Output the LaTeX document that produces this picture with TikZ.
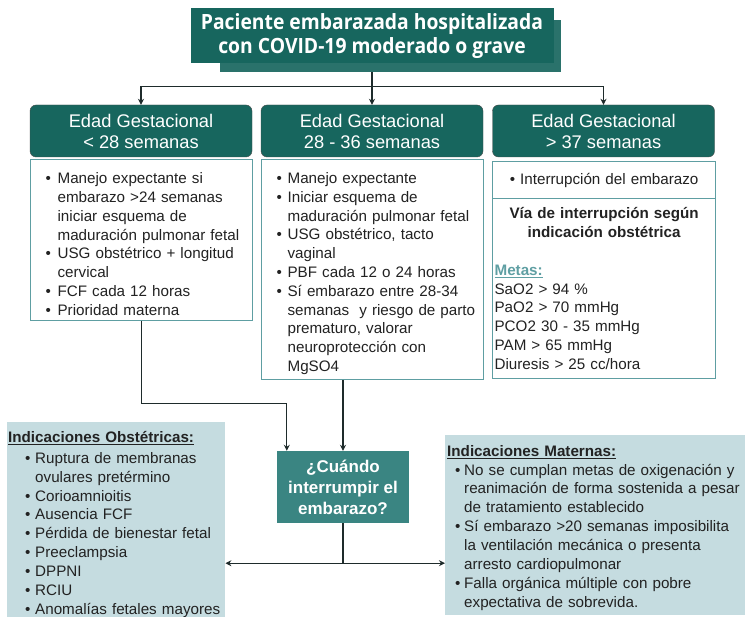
\documentclass[tikz,border=0pt]{standalone}
\usepackage{fontspec}
\setmainfont{Liberation Sans}
\newfontfamily\titlefont[FakeStretch=0.92]{Open Sans}
\usepackage{tikz}
\usetikzlibrary{positioning,arrows.meta,calc,backgrounds}
\definecolor{tealdark}{HTML}{17665E}
\definecolor{tealshade}{HTML}{2A726B}
\definecolor{tealmid}{HTML}{3A8582}
\definecolor{tealline}{HTML}{5E9EA2}
\definecolor{paleblue}{HTML}{C5DCE0}
\definecolor{inkgray}{HTML}{222222}
\definecolor{linkcol}{HTML}{1E2B2B}
\definecolor{metascol}{HTML}{5F9FA3}
\setlength{\parindent}{0pt}
\newlength\bulpos
\newlength\txtpos
\newcommand{\itm}{\par\leftskip=\txtpos\leavevmode\llap{\makebox[\dimexpr\txtpos-\bulpos\relax][l]{\textbullet}}}

\tikzset{
  titlebox/.style={fill=tealdark, text=white, font=\titlefont\bfseries\fontsize{21}{24}\selectfont,
    align=center, minimum width=363pt, minimum height=55pt, inner sep=0pt},
  agebox/.style={fill=tealdark, draw=black!70, rounded corners=6pt, text=white,
    font=\fontsize{18.3}{21}\selectfont, align=center, minimum width=222pt, minimum height=52pt, inner sep=0pt},
  listbox/.style={draw=tealline, line width=1.2pt, fill=white, text=inkgray, anchor=north west,
    font=\fontsize{15.2}{18.8}\selectfont, align=left, inner xsep=2pt, inner ysep=0pt},
  askbox/.style={fill=tealmid, text=white, font=\bfseries\fontsize{17}{21}\selectfont,
    align=center, minimum width=132pt, minimum height=72pt, inner sep=0pt},
  notebox/.style={fill=paleblue, text=inkgray, anchor=north west,
    font=\fontsize{15.2}{18.9}\selectfont, align=left, inner xsep=1pt, inner ysep=5pt},
  itemgap/.code 2 args={\setlength\bulpos{#1}\setlength\txtpos{#2}},
  link/.style={draw=linkcol, line width=1.3pt},
  arr/.style={link, -{Stealth[length=6pt,width=6pt]}},
}

\begin{document}
\begin{tikzpicture}[x=1pt,y=-1pt]
  \useasboundingbox (0,0) rectangle (745,617);

  % top box
  \node[titlebox] (title) at (372,36) {Paciente embarazada hospitalizada\\con COVID-19 moderado o grave};
  \begin{scope}[on background layer]
    \fill[white] (0,0) rectangle (745,617);
    \fill[tealshade] ($(title.south west)+(30,8)$) rectangle ($(title.north east)+(7,12)$);
  \end{scope}

  % gestational age headers
  \node[agebox] (age1) at (141,131) {Edad Gestacional\\< 28 semanas};
  \node[agebox] (age2) at (372,131) {Edad Gestacional\\28 - 36 semanas};
  \node[agebox] (age3) at (603.5,131) {Edad Gestacional\\> 37 semanas};

  % management lists
  \node[listbox, itemgap={13pt}{25pt}, text width=218pt, minimum height=161pt] (b1) at (30,159) {%
    \itm Manejo expectante si\\embarazo >24 semanas\\iniciar esquema de\\maduración pulmonar fetal
    \itm USG obstétrico + longitud\\cervical
    \itm FCF cada 12 horas
    \itm Prioridad materna\par};
  \node[listbox, itemgap={13pt}{24pt}, text width=218pt, minimum height=220pt] (b2) at (261,159) {%
    \itm Manejo expectante
    \itm Iniciar esquema de\\maduración pulmonar fetal
    \itm USG obstétrico, tacto\\vaginal
    \itm PBF cada 12 o 24 horas
    \itm Sí embarazo entre 28-34\\semanas\ \ y riesgo de parto\\prematuro, valorar\\neuroprotección con\\MgSO4\par};
  \node[listbox, align=center, text width=219pt, minimum height=37pt] (b3) at (492,161)
    {\textbullet\ Interrupción del embarazo};
  \node[listbox, text width=219pt, minimum height=180pt] (b4) at (492,198) {%
    {\centering\bfseries Vía de interrupción según\\indicación obstétrica\par}
    \vspace{18.8pt}
    {\color{metascol}\bfseries\underline{Metas:}}\\
    SaO2 > 94 \%\\
    PaO2 > 70 mmHg\\
    PCO2 30 - 35 mmHg\\
    PAM > 65 mmHg\\
    Diuresis > 25 cc/hora};

  % decision box
  \node[askbox] (ask) at (343,487) {¿Cuándo\\interrumpir el\\embarazo?};

  % indications
  \node[notebox, itemgap={17pt}{27pt}, text width=216pt, inner ysep=9pt] (obst) at (7,422) {%
    {\bfseries\underline{Indicaciones Obstétricas:}}\par\vspace{2pt}
    \itm Ruptura de membranas\\ovulares pretérmino
    \itm Corioamnioitis
    \itm Ausencia FCF
    \itm Pérdida de bienestar fetal
    \itm Preeclampsia
    \itm DPPNI
    \itm RCIU
    \itm Anomalías fetales mayores\par};
  \node[notebox, itemgap={8pt}{17pt}, text width=330pt, inner xsep=2pt, inner ysep=4pt] (mat) at (445,435) {%
    \rule{0pt}{17pt}{\bfseries\underline{Indicaciones Maternas:}}
    \itm No se cumplan metas de oxigenación y\\reanimación de forma sostenida a pesar\\de tratamiento establecido
    \itm Sí embarazo >20 semanas imposibilita\\la ventilación mecánica o presenta\\arresto cardiopulmonar
    \itm Falla orgánica múltiple con pobre\\expectativa de sobrevida.\par};

  % connectors
  \draw[link] ($(title.south)+(0,8)$) -- ++(0,15) coordinate (split);
  \draw[arr] (split) -| (age1.north);
  \draw[arr] (split) -- (age2.north);
  \draw[arr] (split) -| (age3.north);
  \draw[arr] (b1.south) -- ++(0,82) -| ([xshift=10pt]ask.north west);
  \draw[arr] (b2.south -| ask.north) -- (ask.north);
  \draw[link] (ask.south) -- ++(0,40) coordinate (fork);
  \draw[arr] (fork) -- (fork -| obst.east);
  \draw[arr] (fork) -- (fork -| mat.west);
\end{tikzpicture}
\end{document}
